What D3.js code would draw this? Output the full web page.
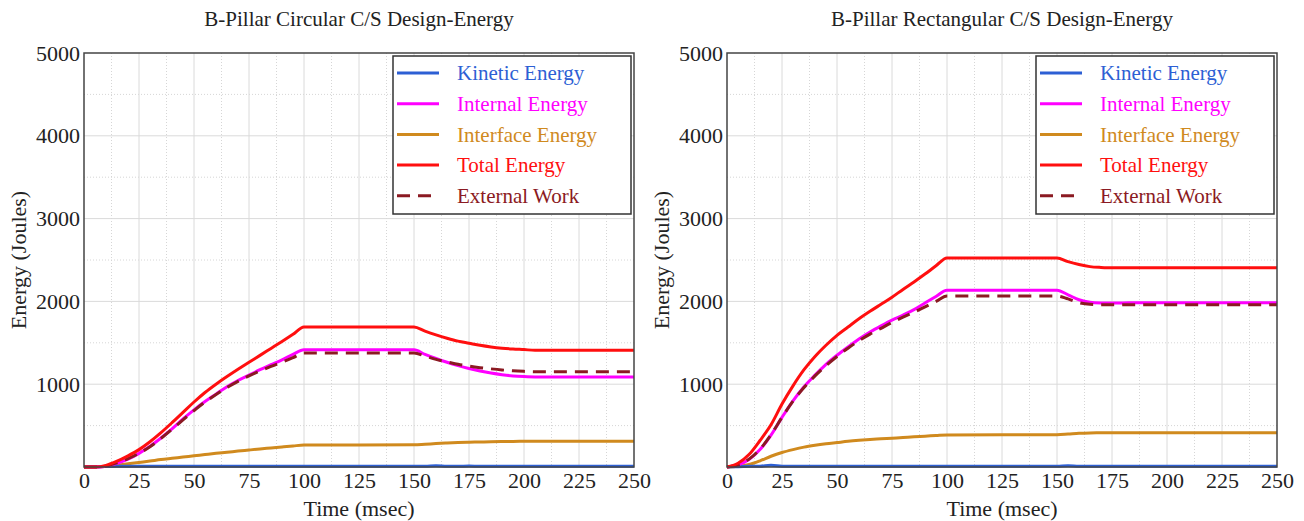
<!DOCTYPE html>
<html><head><meta charset="utf-8">
<script src="https://cdn.jsdelivr.net/npm/d3@7"></script>
<style>body{margin:0;background:#fff;} svg{display:block;}</style>
</head><body>
<svg id="chart" width="1304" height="521"></svg>
<script>
// ---------- data ----------
const times = [0,5,10,15,20,25,30,35,40,45,50,55,60,65,70,75,80,85,90,95,100,150,155,160,165,170,175,180,185,190,195,200,205,210,250];
const xTicks = [0,25,50,75,100,125,150,175,200,225,250];
const yTicks = [1000,2000,3000,4000,5000];
const seriesNames = ["Kinetic Energy","Internal Energy","Interface Energy","Total Energy","External Work"];
const titles = ["B-Pillar Circular C/S Design-Energy","B-Pillar Rectangular C/S Design-Energy"];

// Circular
const circKinetic   = [0,3,6,8,8,8,8,8,8,8,8,8,8,8,8,8,8,8,8,8,8,8,8,14,8,8,12,8,8,8,8,8,8,8,8];
const circInternal  = [0,0,10,45,95,165,250,350,460,580,690,790,880,970,1045,1110,1175,1235,1295,1360,1415,1415,1360,1310,1265,1225,1190,1160,1135,1115,1100,1092,1088,1088,1088];
const circInterface = [0,0,8,22,38,55,72,90,105,120,135,150,165,178,192,205,218,230,242,254,265,268,275,283,290,296,300,302,305,308,309,310,310,310,310];
const circTotal     = [0,0,20,70,135,210,305,415,535,660,785,900,1000,1092,1180,1265,1348,1432,1516,1602,1690,1690,1640,1595,1555,1520,1495,1470,1450,1435,1425,1418,1410,1410,1410];
const circExternal  = [0,0,12,50,100,165,245,345,455,570,680,785,875,960,1035,1100,1160,1215,1265,1320,1378,1378,1340,1300,1270,1240,1218,1200,1185,1172,1162,1155,1150,1150,1150];

// Rectangular
const rectKinetic   = [0,4,8,10,20,10,8,8,8,8,8,8,8,8,8,8,8,8,8,8,8,8,16,8,8,8,8,8,8,8,8,8,8,8,8];
const rectInternal  = [0,25,90,210,385,600,800,970,1110,1240,1350,1450,1545,1630,1705,1775,1835,1900,1980,2060,2135,2135,2080,2020,1990,1982,1980,1982,1983,1984,1985,1985,1985,1985,1985];
const rectInterface = [0,8,30,75,130,175,210,240,262,280,295,310,322,332,340,348,356,365,372,380,387,390,398,408,412,413,413,413,413,413,413,413,413,413,413];
const rectTotal     = [0,45,150,320,510,760,980,1175,1335,1470,1590,1690,1790,1880,1965,2050,2145,2235,2330,2430,2525,2525,2480,2445,2420,2410,2405,2405,2405,2405,2405,2405,2405,2405,2405];
const rectExternal  = [0,25,95,215,390,600,795,960,1100,1225,1335,1435,1525,1605,1675,1745,1810,1870,1935,2000,2065,2065,2030,1985,1965,1960,1960,1960,1960,1960,1960,1960,1960,1960,1960];

// ---------- drawing ----------
const FONT = '"Liberation Serif","Times New Roman",Times,serif';
const colors = ["#2d5fd4","#ff00ff","#d08a1e","#ff0f0f","#8b1a22"];
const dashes = [null,null,null,null,"13,8"];
const svg = d3.select("#chart");

const panels = [
  {title:titles[0], left:84, series:[circKinetic,circInternal,circInterface,circTotal,circExternal], legendX:393},
  {title:titles[1], left:727, series:[rectKinetic,rectInternal,rectInterface,rectTotal,rectExternal], legendX:1036}
];
const plotTop = 53, plotBottom = 467, plotWidth = 550;

panels.forEach(p => {
  const g = svg.append("g");
  const x = d3.scaleLinear().domain([0,250]).range([p.left, p.left+plotWidth]);
  const y = d3.scaleLinear().domain([0,5000]).range([plotBottom, plotTop]);

  // minor grid
  const minorX = d3.range(12.5,250,25);
  const minorY = d3.range(500,5000,1000);
  g.selectAll(".mx").data(minorX).join("line")
    .attr("x1",d=>x(d)).attr("x2",d=>x(d)).attr("y1",plotTop).attr("y2",plotBottom)
    .attr("stroke","#d6d6d6").attr("stroke-width",1).attr("stroke-dasharray","1,2");
  g.selectAll(".my").data(minorY).join("line")
    .attr("x1",p.left).attr("x2",p.left+plotWidth).attr("y1",d=>y(d)).attr("y2",d=>y(d))
    .attr("stroke","#d6d6d6").attr("stroke-width",1).attr("stroke-dasharray","1,2");
  // major grid
  g.selectAll(".Mx").data(xTicks.slice(1,-1)).join("line")
    .attr("x1",d=>x(d)).attr("x2",d=>x(d)).attr("y1",plotTop).attr("y2",plotBottom)
    .attr("stroke","#dadada").attr("stroke-width",1);
  g.selectAll(".My").data(yTicks.slice(0,-1)).join("line")
    .attr("x1",p.left).attr("x2",p.left+plotWidth).attr("y1",d=>y(d)).attr("y2",d=>y(d))
    .attr("stroke","#dadada").attr("stroke-width",1);

  // axes
  const xa = g.append("g").attr("transform",`translate(0,${plotBottom})`)
    .call(d3.axisBottom(x).tickValues(xTicks).tickSize(0).tickPadding(5).tickFormat(d3.format("d")));
  xa.select(".domain").remove();
  xa.selectAll("text").attr("font-size",22).attr("fill","#222").style("font-family",FONT);
  const ya = g.append("g").attr("transform",`translate(${p.left},0)`)
    .call(d3.axisLeft(y).tickValues(yTicks).tickSize(0).tickPadding(4).tickFormat(d3.format("d")));
  ya.select(".domain").remove();
  ya.selectAll("text").attr("font-size",22).attr("fill","#222").style("font-family",FONT);

  // lines
  const line = d3.line().x((d,i)=>x(times[i])).y(d=>y(d)).curve(d3.curveMonotoneX);
  const order = [2,0,1,4,3];
  order.forEach(k => {
    g.append("path").datum(p.series[k]).attr("d",line)
      .attr("fill","none").attr("stroke",colors[k]).attr("stroke-width",3)
      .attr("stroke-dasharray",dashes[k]);
  });

  // frame
  g.append("rect").attr("x",p.left).attr("y",plotTop).attr("width",plotWidth).attr("height",plotBottom-plotTop)
    .attr("fill","none").attr("stroke","#444").attr("stroke-width",1.5);

  // title & labels
  g.append("text").attr("x",p.left+plotWidth/2).attr("y",26).attr("text-anchor","middle")
    .attr("font-size",21).attr("fill","#222").style("font-family",FONT).text(p.title);
  g.append("text").attr("x",p.left+plotWidth/2).attr("y",516).attr("text-anchor","middle")
    .attr("font-size",22).attr("fill","#222").style("font-family",FONT).text("Time (msec)");
  g.append("text").attr("transform",`translate(${p.left-66},${(plotTop+plotBottom)/2}) rotate(-90)`)
    .attr("text-anchor","middle").attr("dy","0.35em").attr("font-size",22).attr("fill","#222")
    .style("font-family",FONT).text("Energy (Joules)");

  // legend
  const lx = p.legendX, ly = 56;
  g.append("rect").attr("x",lx).attr("y",ly).attr("width",238).attr("height",158)
    .attr("fill","#fff").attr("stroke","#333").attr("stroke-width",1.5);
  seriesNames.forEach((name,k) => {
    const cy = 73 + k*30.7;
    g.append("line").attr("x1",lx+4).attr("x2",lx+46).attr("y1",cy).attr("y2",cy)
      .attr("stroke",colors[k]).attr("stroke-width",3).attr("stroke-dasharray",dashes[k]);
    g.append("text").attr("x",lx+64).attr("y",cy).attr("dy","0.35em")
      .attr("font-size",21).attr("fill",colors[k]).style("font-family",FONT).text(name);
  });
});
</script>
</body></html>
